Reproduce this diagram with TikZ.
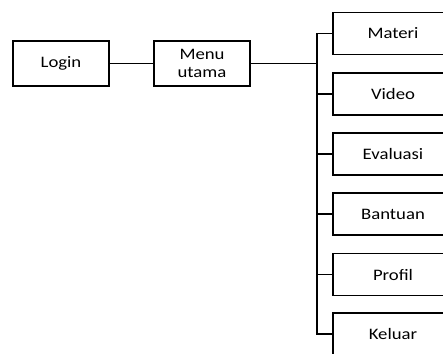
\documentclass[tikz,border=0pt]{standalone}
\usepackage{fontspec}
\setmainfont{Carlito}[FakeStretch=1.17]
\tikzset{
  menubox/.style={draw=black,line width=1.6bp,fill=white,inner sep=0pt,
    align=center,font=\fontsize{16bp}{18bp}\selectfont},
  link/.style={line width=1.6bp}
}

\begin{document}
\begin{tikzpicture}[x=1bp,y=-1bp]
      \useasboundingbox (0,0) rectangle (443,353);
      \clip (0,0) rectangle (443,353);
      % main row
      \node[menubox,minimum width=96bp,minimum height=45bp] (login) at (61,63.5) {Login};
      \node[menubox,minimum width=96bp,minimum height=45bp] (menu) at (202,63.5) {Menu\\utama};
      \coordinate (trunk) at (317,63.5);
      % sub menus
      \node[menubox,minimum width=120bp,minimum height=42bp] (materi)   at (393,33.5)  {Materi};
      \node[menubox,minimum width=120bp,minimum height=42bp] (video)    at (393,94)    {Video};
      \node[menubox,minimum width=120bp,minimum height=42bp] (evaluasi) at (393,154)   {Evaluasi};
      \node[menubox,minimum width=120bp,minimum height=42bp] (bantuan)  at (393,214)   {Bantuan};
      \node[menubox,minimum width=120bp,minimum height=42bp] (profil)   at (393,274.5) {Profil};
      \node[menubox,minimum width=120bp,minimum height=42bp] (keluar)   at (393,334)   {Keluar};
      % connectors
      \draw[link] (login) -- (menu);
      \draw[link] (menu) -- (trunk);
      \draw[link] (materi.west) -| (trunk) |- (keluar.west);
      \draw[link] (video.west) -- (video.west -| trunk);
      \draw[link] (evaluasi.west) -- (evaluasi.west -| trunk);
      \draw[link] (bantuan.west) -- (bantuan.west -| trunk);
      \draw[link] (profil.west) -- (profil.west -| trunk);
     \end{tikzpicture}
\end{document}
